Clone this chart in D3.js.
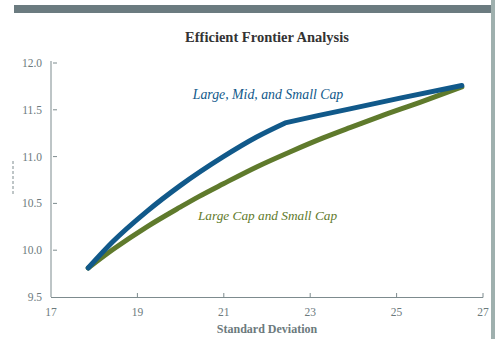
<!DOCTYPE html>
<html>
<head>
<meta charset="utf-8">
<script src="https://cdn.jsdelivr.net/npm/d3@7/dist/d3.min.js"></script>
<style>
  html, body { margin: 0; padding: 0; background: #fff; }
  svg { display: block; }
</style>
</head>
<body>
<svg id="chart" width="495" height="339"></svg>
<script>
// Efficient frontier: expected return vs. standard deviation
const xTicks = [17, 19, 21, 23, 25, 27];
const yTicks = [9.5, 10.0, 10.5, 11.0, 11.5, 12.0];

const allCapRisk   = [17.86, 18.44, 19.22, 19.99, 20.99, 21.76, 22.42, 23.15, 23.92, 25.08, 26.51];
const allCapReturn = [9.81, 10.095, 10.415, 10.69, 11.00, 11.21, 11.36, 11.435, 11.51, 11.625, 11.76];
const allCapKink = 6; // index where the frontier turns into a straight segment

const twoCapRisk   = [17.86, 18.44, 19.22, 19.99, 20.41, 20.99, 21.76, 22.53, 23.30, 23.92, 24.62, 25.54, 26.51];
const twoCapReturn = [9.81, 10.01, 10.25, 10.46, 10.57, 10.71, 10.89, 11.05, 11.20, 11.31, 11.43, 11.58, 11.745];

const seriesNames = ["Large, Mid, and Small Cap", "Large Cap and Small Cap"];

const svg = d3.select("#chart");
const serif = "'Liberation Serif', 'DejaVu Serif', serif";
const axisGray = "#7d8b8e";
const textGray = "#6c7a7d";
const blue = "#11598a";
const green = "#5f7a2c";

// frame decoration
svg.append("rect").attr("x", 14).attr("y", 5).attr("width", 477).attr("height", 8).attr("fill", "#6b7b80");
svg.append("rect").attr("x", 491).attr("y", 0).attr("width", 4).attr("height", 339).attr("fill", "#9fb0ae");

const x = d3.scaleLinear().domain([17, 27]).range([51, 483]);
const y = d3.scaleLinear().domain([9.5, 12.0]).range([297, 63]);

// title
svg.append("text").attr("x", 267).attr("y", 42).attr("text-anchor", "middle")
  .attr("font-family", serif).attr("font-weight", "bold").attr("font-size", 14.5)
  .attr("fill", "#333").text("Efficient Frontier Analysis");

// y axis
const yAxis = svg.append("g");
yAxis.append("line").attr("x1", 51).attr("x2", 51).attr("y1", 61).attr("y2", 297)
  .attr("stroke", axisGray).attr("stroke-width", 1);
yAxis.selectAll("line.tick").data(yTicks.slice(1)).join("line").attr("class", "tick")
  .attr("x1", 53).attr("x2", 57).attr("y1", d => y(d)).attr("y2", d => y(d))
  .attr("stroke", axisGray).attr("stroke-width", 1);
yAxis.selectAll("text").data(yTicks).join("text")
  .attr("x", 42).attr("y", d => y(d) + 4).attr("text-anchor", "end")
  .attr("font-family", serif).attr("font-size", 11.5).attr("fill", textGray)
  .text(d => d.toFixed(1));

// short dashed mark left of the y axis
svg.append("line").attr("x1", 13).attr("x2", 13).attr("y1", 161).attr("y2", 196)
  .attr("stroke", "#7f8c8f").attr("stroke-width", 1).attr("stroke-dasharray", "3,2");

// x axis
const xAxis = svg.append("g");
xAxis.append("line").attr("x1", 51).attr("x2", 483).attr("y1", 297.5).attr("y2", 297.5)
  .attr("stroke", axisGray).attr("stroke-width", 1);
xAxis.selectAll("line.tick").data(xTicks.slice(1)).join("line").attr("class", "tick")
  .attr("x1", d => x(d)).attr("x2", d => x(d)).attr("y1", 293).attr("y2", 297.5)
  .attr("stroke", axisGray).attr("stroke-width", 1);
xAxis.selectAll("text").data(xTicks).join("text")
  .attr("x", d => x(d)).attr("y", 316).attr("text-anchor", "middle")
  .attr("font-family", serif).attr("font-size", 11.5).attr("fill", textGray)
  .text(d => d);
svg.append("text").attr("x", 267).attr("y", 333).attr("text-anchor", "middle")
  .attr("font-family", serif).attr("font-weight", "bold").attr("font-size", 12)
  .attr("fill", textGray).text("Standard Deviation");

// frontier lines
const smooth = d3.line().x(d => x(d[0])).y(d => y(d[1])).curve(d3.curveMonotoneX);
const straight = d3.line().x(d => x(d[0])).y(d => y(d[1])).curve(d3.curveLinear);
const twoCap = twoCapRisk.map((r, i) => [r, twoCapReturn[i]]);
const allCap = allCapRisk.map((r, i) => [r, allCapReturn[i]]);

svg.append("path").datum(twoCap).attr("d", smooth).attr("fill", "none")
  .attr("stroke", green).attr("stroke-width", 5).attr("stroke-linecap", "round").attr("stroke-linejoin", "round");

// curved part up to the kink, then straight segments to the end
const allCapPath = smooth(allCap.slice(0, allCapKink + 1)) +
  straight(allCap.slice(allCapKink)).replace(/^M/, "L");
svg.append("path").attr("d", allCapPath).attr("fill", "none")
  .attr("stroke", blue).attr("stroke-width", 5).attr("stroke-linecap", "round").attr("stroke-linejoin", "round");

// series labels
svg.append("text").attr("x", 268).attr("y", 99).attr("text-anchor", "middle")
  .attr("font-family", serif).attr("font-style", "italic").attr("font-size", 13.8)
  .attr("fill", blue).text(seriesNames[0]);
svg.append("text").attr("x", 267.5).attr("y", 220).attr("text-anchor", "middle")
  .attr("font-family", serif).attr("font-style", "italic").attr("font-size", 13.3)
  .attr("fill", green).text(seriesNames[1]);
</script>
</body>
</html>
